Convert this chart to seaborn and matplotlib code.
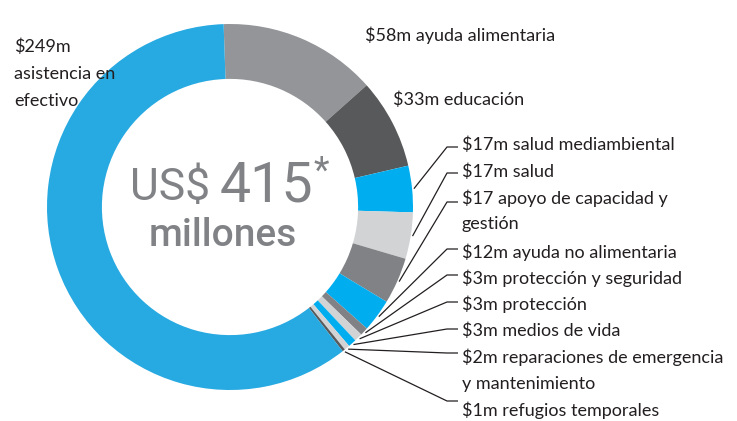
import numpy as np
import matplotlib
matplotlib.use("Agg")
import matplotlib.pyplot as plt
import seaborn as sns

# values, clockwise from the top of the ring
amounts = [58, 33, 17, 17, 17, 12, 3, 3, 3, 2, 1, 249]
labels = [
    "$58m ayuda alimentaria",
    "$33m educación",
    "$17m salud mediambiental",
    "$17m salud",
    "$17 apoyo de capacidad y\ngestión",
    "$12m ayuda no alimentaria",
    "$3m protección y seguridad",
    "$3m protección",
    "$3m medios de vida",
    "$2m reparaciones de emergencia\ny mantenimiento",
    "$1m refugios temporales",
    "$249m\nasistencia en\nefectivo",
]
colors = ["#939598", "#58595b", "#00aeef", "#d1d3d4", "#808285", "#00aeef",
          "#808285", "#d1d3d4", "#00aeef", "#d1d3d4", "#58595b", "#27a9e1"]
total_text = "415"

sns.set_theme(style="white")
plt.rcParams["font.family"] = ["Lato", "DejaVu Sans"]

W, H = 737, 421
fig = plt.figure(figsize=(W / 100, H / 100), dpi=100)
ax = fig.add_axes([0, 0, 1, 1])

cx, cy, R = 230, H - 207, 183
wedges, _ = ax.pie(amounts, colors=colors, radius=R, center=(cx, cy),
                   startangle=92, counterclock=False,
                   wedgeprops=dict(width=R * 0.30, edgecolor="none", linewidth=0))
ax.set_xlim(0, W)
ax.set_ylim(0, H)
ax.set_aspect("equal")
ax.axis("off")

ink = "#231f20"
fs = 13

# labels without leader lines
def put_lines(x, y_top, text, step=27):
    for i, line in enumerate(text.split("\n")):
        ax.text(x, H - (y_top + i * step), line, fontsize=fs, color=ink,
                ha="left", va="center")

put_lines(14, 47, labels[11])
put_lines(365, 35, labels[0])
put_lines(393, 100, labels[1])

# right-hand labels with leader lines
text_y = [145, 172, 198, 252, 278, 304, 331, 357, 410]
line_y = [147, 173, 202, 249, 275, 302, 329, 353, 401]
for k, idx in enumerate(range(2, 11)):
    w = wedges[idx]
    mid = np.deg2rad((w.theta1 + w.theta2) / 2)
    tx = cx + R * 1.01 * np.cos(mid)
    ty = cy + R * 1.01 * np.sin(mid)
    ly = H - line_y[k]
    ax.plot([tx, 447, 458], [ty, ly, ly], color=ink, lw=0.9,
            solid_capstyle="butt")
    put_lines(462, text_y[k], labels[idx], step=26.5)

# centre text
grey = "#808285"
ax.text(210, H - 200, "US$", fontsize=32, color=grey, ha="right",
        va="baseline", family="Roboto")
ax.text(220, H - 201, total_text, fontsize=40, color=grey, ha="left",
        va="baseline", family="Roboto")
ax.text(314, H - 154, "*", fontsize=26, color=grey, ha="left",
        va="top", family="Roboto")
ax.text(223, H - 246, "millones", fontsize=28, color=grey, ha="center",
        va="baseline", family="Roboto", fontweight="medium")

fig.savefig("out.png", dpi=100)
